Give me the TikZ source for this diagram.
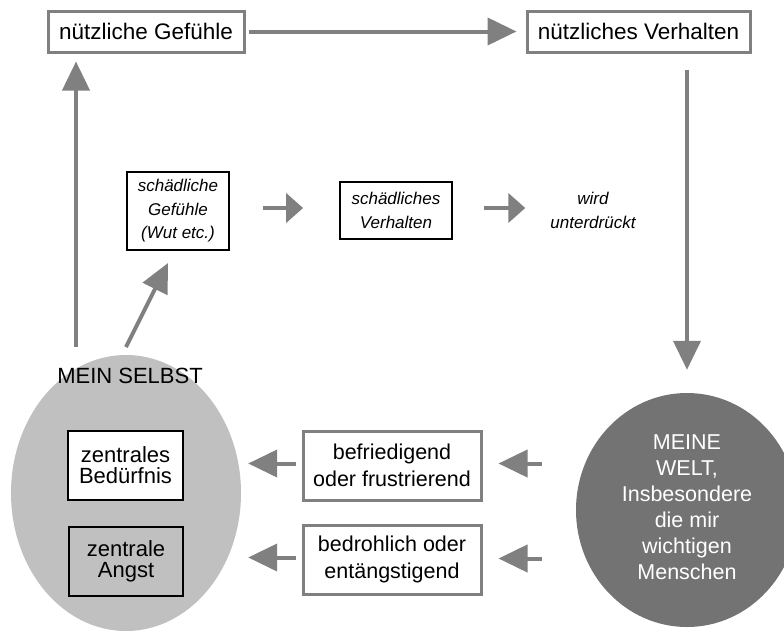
\documentclass[tikz,border=0pt]{standalone}
\usepackage{fontspec}
\setmainfont{Liberation Sans}
\usetikzlibrary{arrows.meta,shapes.geometric}
\definecolor{arrgray}{RGB}{128,128,128}
\definecolor{lightg}{RGB}{192,192,192}
\definecolor{darkg}{RGB}{115,115,115}
\begin{document}
\begin{tikzpicture}[x=1pt,y=-1pt,
  graybox/.style={draw=arrgray, line width=3pt, fill=white, inner sep=0pt, align=center},
  topfont/.style={font=\fontsize{22.5}{26}\selectfont},
  botfont/.style={font=\fontsize{21.5}{27}\selectfont},
  blackbox/.style={draw=black, line width=1.8pt, fill=white, inner sep=0pt, align=center, font=\fontsize{17}{23.5}\selectfont\itshape},
  innerbox/.style={draw=black, line width=1.3pt, inner sep=0pt, align=center, font=\fontsize{22}{21}\selectfont},
  longarrow/.style={draw=arrgray, line width=4pt, -{Triangle[length=29pt,width=27pt]}},
  shortarrow/.style={draw=arrgray, line width=4pt, -{Triangle[length=17pt,width=29pt]}},
  blob/.style={ellipse, inner sep=0pt},
]
\useasboundingbox[fill=white] (0,0) rectangle (784,632);

% big shapes
\node[blob, fill=lightg, minimum width=230pt, minimum height=276pt] (self) at (126,493) {};
\node[blob, fill=darkg, minimum width=222pt, minimum height=234pt] (welt) at (687,510) {};
\node[text=white, align=center, inner sep=0pt, font=\fontsize{21.5}{26}\selectfont] (welttext) at (687,507)
  {MEINE\\WELT,\\Insbesondere\\die mir\\wichtigen\\Menschen};

% top row
\node[graybox, topfont, minimum width=196pt, minimum height=41pt] (ng) at (146,31.5) {nützliche Gefühle};
\node[graybox, topfont, minimum width=223pt, minimum height=41pt] (nv) at (638.5,31.5) {nützliches Verhalten};

% middle row
\node[blackbox, minimum width=102pt, minimum height=78pt] (sg) at (178,211) {schädliche\\Gefühle\\(Wut etc.)};
\node[blackbox, minimum width=112pt, minimum height=57pt] (sv) at (396,210.5) {schädliches\\Verhalten};
\node[inner sep=0pt, align=center, font=\fontsize{17}{24}\selectfont\itshape] (wu) at (593,210) {wird\\unterdrückt};

% self
\node[inner sep=0pt, font=\fontsize{22}{26}\selectfont] (selbst) at (130,376) {MEIN SELBST};
\node[innerbox, fill=white, minimum width=115pt, minimum height=69pt] (zb) at (125.5,465.5) {zentrales\\Bedürfnis};
\node[innerbox, fill=lightg, minimum width=114pt, minimum height=69pt] (za) at (126,561.5) {zentrale\\Angst};

% bottom boxes
\node[graybox, botfont, minimum width=178pt, minimum height=69pt] (bf) at (392,465.5) {befriedigend\\oder frustrierend};
\node[graybox, botfont, minimum width=178pt, minimum height=69pt] (bd) at (392,559.5) {bedrohlich oder\\entängstigend};

% connectors
\draw[longarrow, shorten <=3pt, shorten >=9pt] (ng) -- (nv);
\draw[longarrow, shorten <=16pt, shorten >=23pt] (nv.south -| welt.north) -- (welt.north);
\coordinate (upS) at (76,347);
\draw[longarrow, shorten >=8pt] (upS) -- (upS |- ng.south);
\coordinate (dgS) at (126,347);
\coordinate (dgE) at (168,263);
\draw[longarrow] (dgS) -- (dgE);

\draw[shortarrow, shorten <=33pt, shorten >=36pt] ([yshift=3pt]sg.east) -- ([yshift=3pt]sg.east -| sv.west);
\draw[shortarrow, shorten <=31pt, shorten >=25pt] ([yshift=2.5pt]sv.east) -- ([yshift=2.5pt]sv.east -| wu.west);

\draw[longarrow, shorten <=34pt, shorten >=16pt] ([yshift=2pt]bf.east -| welt.west) -- ([yshift=2pt]bf.east);
\draw[longarrow, shorten <=34pt, shorten >=16pt] ([yshift=1pt]bd.east -| welt.west) -- ([yshift=1pt]bd.east);
\draw[longarrow, shorten <=6pt, shorten >=7pt] ([yshift=2pt]bf.west) -- ([yshift=2pt]bf.west -| self.east);
\draw[longarrow, shorten <=6pt, shorten >=7pt] ([yshift=2pt]bd.west) -- ([yshift=2pt]bd.west -| self.east);
\end{tikzpicture}
\end{document}
